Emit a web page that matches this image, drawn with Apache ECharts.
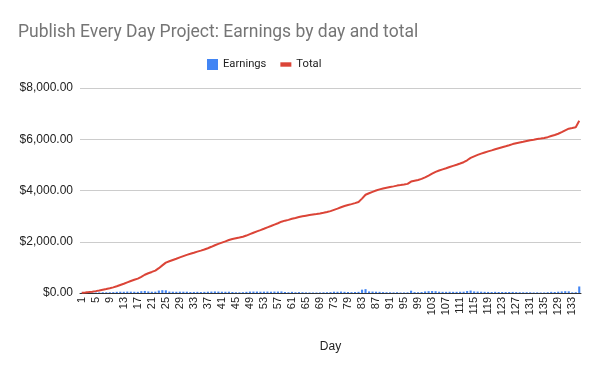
<!DOCTYPE html>
<html>
<head>
<meta charset="utf-8">
<script src="https://cdn.jsdelivr.net/npm/echarts@6/dist/echarts.min.js"></script>
<style>html,body{margin:0;padding:0;background:#fff;}#c{width:600px;height:371px;}</style>
</head>
<body>
<div id="c"></div>
<script>
const days = [
  1,2,3,4,5,6,7,8,9,10,11,12,13,14,15,16,17,18,19,20,21,22,23,24,25,26,27,28,29,30,
  31,32,33,34,35,36,37,38,39,40,41,42,43,44,45,46,47,48,49,50,51,52,53,54,55,56,57,58,59,60,
  61,62,63,64,65,66,67,68,69,70,71,72,73,74,75,78,79,80,81,82,83,84,85,86,87,88,89,90,
  91,92,93,94,95,96,97,98,99,100,101,102,103,104,105,106,107,108,109,110,111,112,113,114,115,
  116,117,118,119,120,121,122,123,124,125,126,127,128,129,130,131,132,133,134,135,
  126,127,128,129,130,131,132,133,134,135
];
const earnings = [
  8,12,15,18,20,24,30,28,30,34,
  45,50,48,55,52,48,45,70,80,
  60,50,52,95,110,105,
  55,50,48,52,50,50,
  40,42,45,38,44,
  50,55,60,55,50,48,50,40,30,28,32,45,55,55,55,
  50,52,55,50,55,55,60,
  40,30,45,30,35,30,
  25,22,20,20,22,28,30,35,
  50,48,55,45,40,35,40,45,
  130,150,60,55,50,45,35,30,28,25,30,
  20,22,25,90,35,30,40,60,70,75,70,
  50,45,45,48,45,45,48,50,
  75,95,60,55,50,45,42,40,45,40,
  40,38,40,42,35,30,28,30,28,
  22,25,20,22,30,45,40,50,60,70,65,25,30,255
];
const total = [
  8,20,35,53,73,97,127,155,185,219,
  264,314,362,417,469,517,562,632,712,
  772,822,874,969,1079,1184,
  1239,1289,1337,1389,1439,1489,
  1529,1571,1616,1654,1698,
  1748,1803,1863,1918,1968,2016,2066,2106,2136,2164,2196,2241,2296,2351,2406,
  2456,2508,2563,2613,2668,2723,2783,
  2823,2853,2898,2928,2963,2993,
  3018,3040,3060,3080,3102,3130,3160,3195,
  3245,3293,3348,3393,3433,3468,3508,3553,
  3683,3833,3893,3948,3998,4043,4078,4108,4136,4161,4191,
  4211,4233,4258,4348,4383,4413,4453,4513,4583,4658,4728,
  4778,4823,4868,4916,4961,5006,5054,5104,
  5179,5274,5334,5389,5439,5484,5526,5566,5611,5651,
  5691,5729,5769,5811,5846,5876,5904,5934,5962,
  5984,6009,6029,6051,6081,6126,6166,6216,6276,6346,6411,6436,6466,6721
];
const yTicks = [0, 2000, 4000, 6000, 8000];

const FONT = "'Liberation Sans', Arial, sans-serif";
const TFONT = "Roboto, 'Liberation Sans', sans-serif";
const chart = echarts.init(document.getElementById('c'), null, {renderer: 'canvas'});
chart.setOption({
  animation: false,
  backgroundColor: '#ffffff',
  title: {
    text: 'Publish Every Day Project: Earnings by day and total',
    left: 13, top: 19,
    textStyle: {fontFamily: TFONT, fontSize: 17.5, fontWeight: 'normal', color: '#757575'}
  },
  legend: {
    top: 54, left: 202,
    itemWidth: 11, itemHeight: 11, itemGap: 14,
    textStyle: {fontFamily: TFONT, fontSize: 11.2, color: '#222'},
    data: [
      {name: 'Earnings', icon: 'rect'},
      {name: 'Total', icon: 'path://M0,0 L10,0 L10,4 L0,4 Z'}
    ]
  },
  grid: {left: 80, right: 19, top: 88, bottom: 78, containLabel: false},
  xAxis: {
    type: 'category',
    data: days.map(String),
    name: 'Day', nameLocation: 'middle', nameGap: 48,
    nameTextStyle: {fontFamily: FONT, fontSize: 12, color: '#222'},
    axisLine: {lineStyle: {color: '#333', width: 1}},
    axisTick: {show: false},
    axisLabel: {interval: 3, rotate: 90, fontFamily: FONT, fontSize: 11, color: '#222', margin: 4}
  },
  yAxis: {
    type: 'value', min: yTicks[0], max: yTicks[yTicks.length - 1], interval: 2000,
    axisLine: {show: false}, axisTick: {show: false},
    splitLine: {lineStyle: {color: '#cccccc'}},
    axisLabel: {
      fontFamily: FONT, fontSize: 12, color: '#222', margin: 7,
      formatter: v => '$' + v.toLocaleString('en-US', {minimumFractionDigits: 2, maximumFractionDigits: 2})
    }
  },
  series: [
    {name: 'Earnings', type: 'bar', data: earnings, barCategoryGap: '40%',
     itemStyle: {color: '#4285F4'}},
    {name: 'Total', type: 'line', data: total, showSymbol: false, symbol: 'none',
     lineStyle: {color: '#DB4437', width: 2}, itemStyle: {color: '#DB4437'}}
  ]
});
</script>
</body>
</html>
